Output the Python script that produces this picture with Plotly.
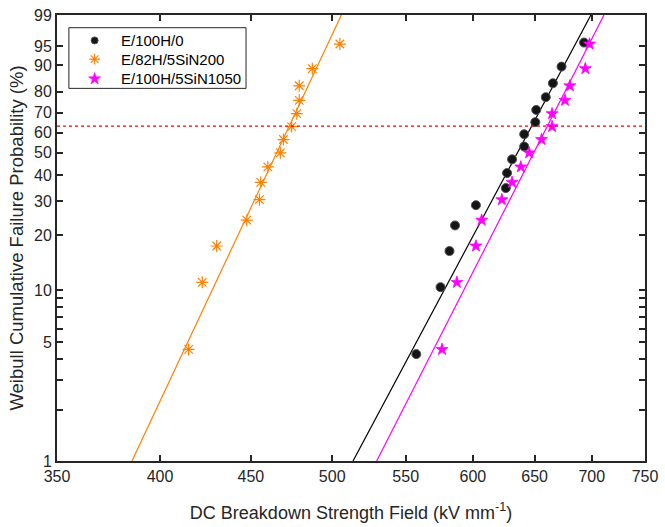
import numpy as np
import plotly.graph_objects as go

# Breakdown fields (kV/mm) and cumulative failure probabilities (%)
e100h0_field = [557.6, 575.4, 582.1, 586.3, 602.4, 626.2, 627.2, 631.3,
                641.3, 641.3, 650.6, 651.4, 659.5, 665.6, 673.1, 693.0]
e100h0_prob = [4.27, 10.37, 16.46, 22.56, 28.66, 34.76, 40.85, 46.95,
               53.05, 59.15, 65.24, 71.34, 77.44, 83.54, 89.63, 95.73]

e82h_field = [415.1, 422.5, 430.5, 447.6, 455.0, 455.8, 460.0, 467.5,
              469.4, 474.4, 477.6, 479.1, 479.1, 487.3, 505.0]
e82h_prob = [4.55, 11.04, 17.53, 24.03, 30.52, 37.01, 43.51, 50.0,
             56.49, 62.99, 69.48, 75.97, 82.47, 88.96, 95.45]

e100h_sin_field = [576.5, 587.7, 602.4, 606.9, 623.0, 631.3, 638.5, 645.4,
                   655.9, 664.9, 664.9, 676.1, 680.4, 694.2, 698.0]
e100h_sin_prob = [4.55, 11.04, 17.53, 24.03, 30.52, 37.01, 43.51, 50.0,
                  56.49, 62.99, 69.48, 75.97, 82.47, 88.96, 95.45]

# Weibull fit parameters: scale alpha (kV/mm), shape beta
fit_alpha = [647.5, 472.9, 660.8]
fit_beta = [19.87, 22.57, 20.80]

series_names = ["E/100H/0", "E/82H/5SiN200", "E/100H/5SiN1050"]
series_colors = ["#000000", "#FF8000", "#FF00FF"]

x_ticks = [350, 400, 450, 500, 550, 600, 650, 700, 750]
y_tick_pct = [1, 2, 3, 4, 5, 6, 7, 8, 9, 10, 20, 30, 40, 50, 60, 70, 80, 90, 95, 99]
y_labelled = [1, 5, 10, 20, 30, 40, 50, 60, 70, 80, 90, 95, 99]


def weibull_y(pct):
    p = np.asarray(pct, dtype=float) / 100.0
    return np.log(-np.log(1.0 - p))


y_lo = float(weibull_y(1))
y_hi = float(weibull_y(99))

# marker styles per series
styles = [
    dict(symbol="circle", size=9, color="#151515", line=dict(color="#505050", width=1)),
    dict(symbol="asterisk-open", size=10, color=series_colors[1],
         line=dict(color=series_colors[1], width=1.2)),
    dict(symbol="star", size=9, color=series_colors[2],
         line=dict(color=series_colors[2], width=0.8)),
]
legend_styles = [
    dict(symbol="circle", size=7, color="#151515", line=dict(color="#505050", width=1)),
    dict(symbol="asterisk-open", size=9, color=series_colors[1],
         line=dict(color=series_colors[1], width=1.1)),
    dict(symbol="star", size=9, color=series_colors[2],
         line=dict(color=series_colors[2], width=0.6)),
]

fig = go.Figure()

# fitted lines
w_line = np.linspace(y_lo, y_hi, 50)
for a, b, c in zip(fit_alpha, fit_beta, series_colors):
    fig.add_trace(go.Scatter(x=a * np.exp(w_line / b), y=w_line, mode="lines",
                             line=dict(color=c, width=1.2), showlegend=False,
                             hoverinfo="skip"))

# measured points
for xs, ps, name, st in zip([e100h0_field, e82h_field, e100h_sin_field],
                            [e100h0_prob, e82h_prob, e100h_sin_prob],
                            series_names, styles):
    fig.add_trace(go.Scatter(x=xs, y=weibull_y(ps), mode="markers", name=name,
                             marker=st, showlegend=False))

# 63.2 % reference level
fig.add_shape(type="line", xref="paper", x0=0, x1=1, yref="y", y0=0, y1=0,
              line=dict(color="#FF0000", width=1.3, dash="dot"))

# legend box, with its markers on an overlay axis spanning the plot area (0..1)
leg_x0, leg_x1, leg_y0, leg_y1 = 0.0202, 0.3215, 0.8355, 0.9715
leg_mark_x, leg_text_x = 0.064, 0.106
leg_rows = [0.943, 0.901, 0.857]
fig.add_shape(type="rect", xref="paper", yref="paper",
              x0=leg_x0, x1=leg_x1, y0=leg_y0, y1=leg_y1,
              line=dict(color="#262626", width=1), fillcolor="white", layer="below")
for row, name, st in zip(leg_rows, series_names, legend_styles):
    fig.add_trace(go.Scatter(x=[leg_mark_x], y=[row], xaxis="x2", yaxis="y2",
                             mode="markers", marker=st, showlegend=False,
                             hoverinfo="skip"))
    fig.add_annotation(x=leg_text_x, y=row, xref="paper", yref="paper",
                       text=name, showarrow=False, xanchor="left", yanchor="middle",
                       font=dict(size=15, color="#000000"))

axis_color = "#262626"
family = "Liberation Sans, Arial, sans-serif"

fig.update_layout(
    width=665, height=527,
    margin=dict(l=57, r=14, t=7, b=64),
    paper_bgcolor="white", plot_bgcolor="white",
    font=dict(family=family, size=16, color=axis_color),
    showlegend=False,
    xaxis=dict(type="log", range=[np.log10(350), np.log10(750)],
               tickvals=x_ticks, ticktext=[str(v) for v in x_ticks],
               tickfont=dict(size=16),
               ticks="inside", ticklen=6, tickwidth=1.5, tickcolor=axis_color,
               showline=True, linecolor=axis_color, linewidth=2, mirror="ticks",
               showgrid=False, zeroline=False,
               title=dict(text="DC Breakdown Strength Field (kV mm<sup>-1</sup>)",
                          font=dict(size=18), standoff=22)),
    yaxis=dict(range=[y_lo, y_hi],
               tickvals=list(weibull_y(y_tick_pct)),
               ticktext=[str(v) if v in y_labelled else "" for v in y_tick_pct],
               tickfont=dict(size=16),
               ticks="inside", ticklen=6, tickwidth=1.5, tickcolor=axis_color,
               showline=True, linecolor=axis_color, linewidth=2, mirror="ticks",
               showgrid=False, zeroline=False,
               title=dict(text="Weibull Cumulative Failure Probability (%)",
                          font=dict(size=18.5), standoff=6)),
    xaxis2=dict(overlaying="x", range=[0, 1], visible=False, fixedrange=True),
    yaxis2=dict(overlaying="y", range=[0, 1], visible=False, fixedrange=True),
)

fig.write_html("out.html")
